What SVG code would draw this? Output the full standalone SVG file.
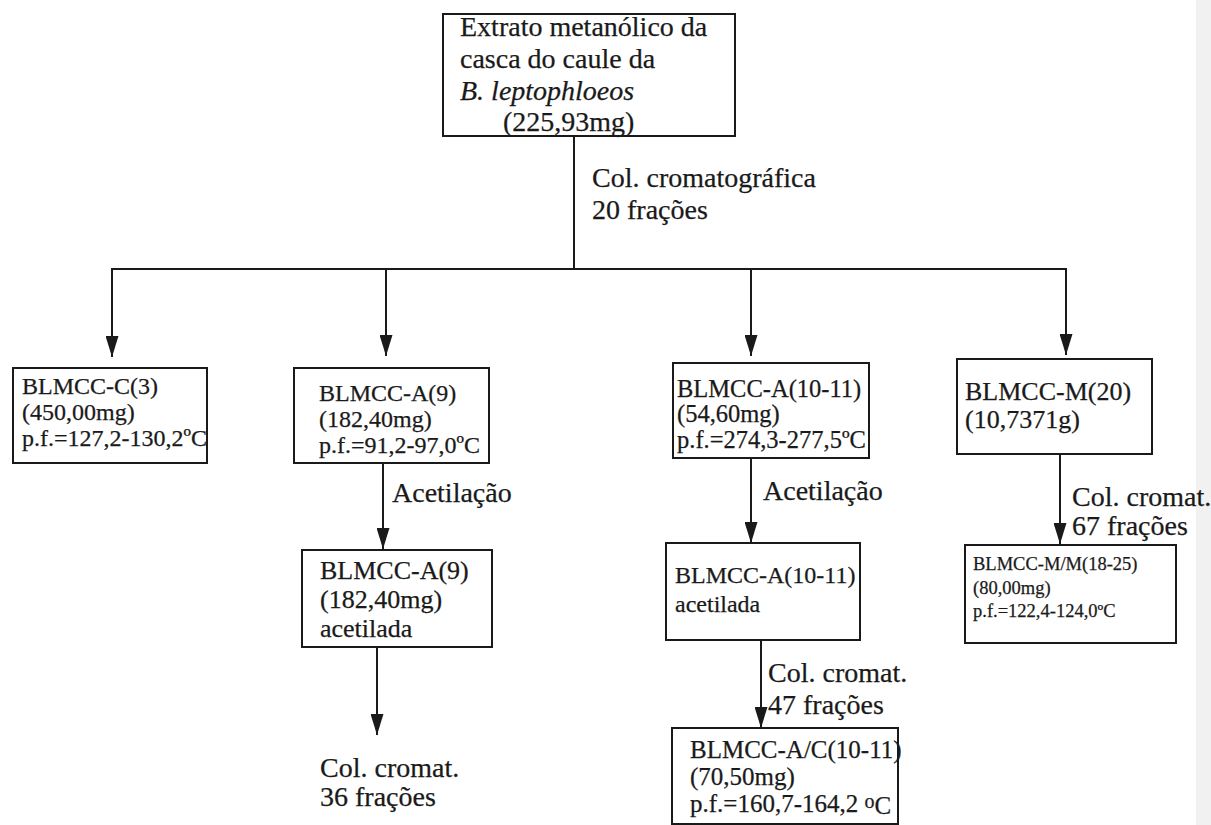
<svg xmlns="http://www.w3.org/2000/svg" width="1211" height="825" viewBox="0 0 1211 825" font-family="'Liberation Serif', 'DejaVu Serif', serif">
  <style>
    text { font-family: 'Liberation Serif', 'DejaVu Serif', serif; fill: #1a1a1a; stroke: #1a1a1a; stroke-width: 0.25; }
    .box { fill: #fff; stroke: #1a1a1a; stroke-width: 2; }
    .lbl { font-size: 28px; }
    .n24 { font-size: 24px; }
    .n245 { font-size: 24.5px; }
    .n25 { font-size: 25px; }
    .n26 { font-size: 26px; }
    .n18 { font-size: 18.5px; }
    .wire { fill: none; stroke: #1a1a1a; stroke-width: 2; }
  </style>
  <defs>
    <!-- slim filled arrowhead, drawn along +x so orient="auto" points it down the line -->
    <marker id="arrow" viewBox="0 0 21 13" refX="21" refY="6.5" markerWidth="21" markerHeight="13" markerUnits="userSpaceOnUse" orient="auto">
      <path d="M0,0 L21,6.5 L0,13 Z" fill="#1a1a1a"/>
    </marker>
  </defs>
  <rect width="1211" height="825" fill="#fff"/>
  <rect x="1196" y="0" width="15" height="825" fill="#f1f1f1"/>

  <!-- connectors -->
  <g id="connectors" class="wire">
    <line x1="574" y1="136" x2="574" y2="269"/>
    <line x1="111" y1="269" x2="1067" y2="269"/>
    <line x1="112" y1="269" x2="112" y2="357" marker-end="url(#arrow)"/>
    <line x1="386" y1="269" x2="386" y2="356" marker-end="url(#arrow)"/>
    <line x1="751" y1="269" x2="751" y2="356" marker-end="url(#arrow)"/>
    <line x1="1066" y1="269" x2="1066" y2="355" marker-end="url(#arrow)"/>
    <line x1="383" y1="463" x2="383" y2="549" marker-end="url(#arrow)"/>
    <line x1="377" y1="647" x2="377" y2="735" marker-end="url(#arrow)"/>
    <line x1="751" y1="458" x2="751" y2="543" marker-end="url(#arrow)"/>
    <line x1="761" y1="640" x2="761" y2="728" marker-end="url(#arrow)"/>
    <line x1="1060" y1="454" x2="1060" y2="544" marker-end="url(#arrow)"/>
  </g>

  <!-- edge labels -->
  <g id="labels" class="lbl">
    <text x="592" y="187">Col. cromatográfica</text>
    <text x="592" y="219">20 frações</text>
    <text x="392" y="502">Acetilação</text>
    <text x="763" y="500">Acetilação</text>
    <text x="1072" y="506">Col. cromat.</text>
    <text x="1072" y="535">67 frações</text>
    <text x="768" y="682">Col. cromat.</text>
    <text x="768" y="714">47 frações</text>
    <text x="320" y="777">Col. cromat.</text>
    <text x="320" y="806">36 frações</text>
  </g>

  <g id="node-extrato">
    <rect class="box" x="443" y="14" width="292" height="122"/>
    <text class="lbl" x="460" y="36">Extrato metanólico da</text>
    <text class="lbl" x="460" y="68">casca do caule da</text>
    <text class="lbl" x="460" y="100" font-style="italic">B. leptophloeos</text>
    <text class="lbl" x="503" y="131">(225,93mg)</text>
  </g>

  <g id="node-c3" class="n24">
    <rect class="box" x="13" y="368" width="194" height="95"/>
    <text x="22" y="394">BLMCC-C(3)</text>
    <text x="22" y="420">(450,00mg)</text>
    <text x="22" y="446">p.f.=127,2-130,2ºC</text>
  </g>

  <g id="node-a9" class="n24">
    <rect class="box" x="294" y="368" width="195" height="95"/>
    <text x="319" y="401">BLMCC-A(9)</text>
    <text x="319" y="427">(182,40mg)</text>
    <text x="319" y="453">p.f.=91,2-97,0ºC</text>
  </g>

  <g id="node-a10-11" class="n245">
    <rect class="box" x="673" y="363" width="196" height="95"/>
    <text x="677" y="397">BLMCC-A(10-11)</text>
    <text x="677" y="422">(54,60mg)</text>
    <text x="677" y="448">p.f.=274,3-277,5ºC</text>
  </g>

  <g id="node-m20" class="n26">
    <rect class="box" x="957" y="359" width="195" height="95"/>
    <text x="965" y="400">BLMCC-M(20)</text>
    <text x="965" y="428">(10,7371g)</text>
  </g>

  <g id="node-a9-acetilada" class="n26">
    <rect class="box" x="302" y="550" width="190" height="97"/>
    <text x="320" y="579">BLMCC-A(9)</text>
    <text x="320" y="608">(182,40mg)</text>
    <text x="320" y="637">acetilada</text>
  </g>

  <g id="node-a10-11-acetilada" class="n24">
    <rect class="box" x="666" y="543" width="194" height="97"/>
    <text x="675" y="583">BLMCC-A(10-11)</text>
    <text x="675" y="612">acetilada</text>
  </g>

  <g id="node-mm" class="n18">
    <rect class="box" x="965" y="545" width="211" height="98"/>
    <text x="973" y="570">BLMCC-M/M(18-25)</text>
    <text x="973" y="594">(80,00mg)</text>
    <text x="973" y="617">p.f.=122,4-124,0ºC</text>
  </g>

  <g id="node-ac" class="n25">
    <rect class="box" x="672" y="728" width="226" height="96"/>
    <text x="690" y="758">BLMCC-A/C(10-11)</text>
    <text x="690" y="785">(70,50mg)</text>
    <text x="690" y="812">p.f.=160,7-164,2 <tspan font-size="20" dy="-4">o</tspan><tspan dy="6">C</tspan></text>
  </g>
</svg>
